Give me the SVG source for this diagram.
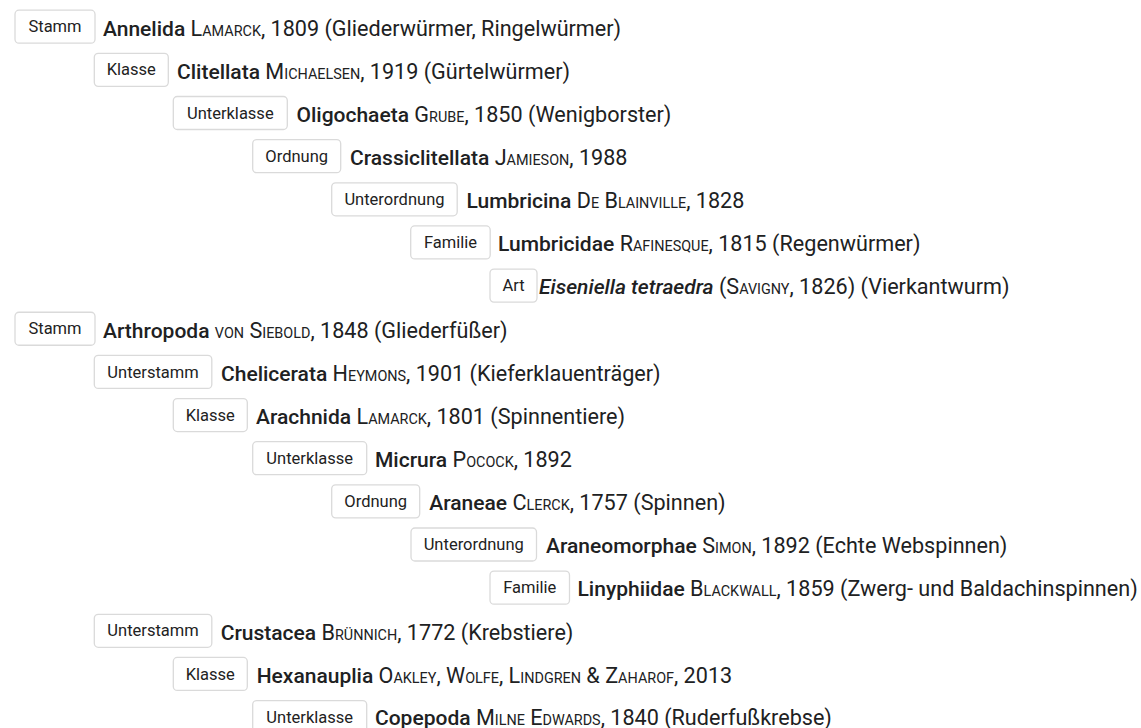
<svg xmlns="http://www.w3.org/2000/svg" width="1141" height="728" viewBox="0 0 1141 728">
<style>
  .bg { fill: #ffffff; }
  .box { fill: #ffffff; stroke: #dadada; stroke-width: 1.3; }
  .lbl { font-family: Roboto, "Liberation Sans", sans-serif; font-size: 16.5px; fill: #222222; text-anchor: middle; }
  .txt { font-family: Roboto, "Liberation Sans", sans-serif; font-size: 21.6px; fill: #202122; }
  .n { font-weight: 500; font-size: 21px; }
  .i { font-weight: 500; font-style: italic; font-size: 21px; }
  .s { font-size: 14.4px; }
</style>
<rect class="bg" x="0" y="0" width="1141" height="728"/>
<g id="connectors"/>
<g id="r0" transform="translate(0,26.7)"><rect class="box" x="15" y="-16.5" width="80" height="33" rx="4"/><text class="lbl" x="55" y="5.6">Stamm</text><text class="txt" x="103" y="8.8"><tspan class="n">Annelida</tspan> L<tspan class="s">AMARCK</tspan>, 1809 (Gliederwürmer, Ringelwürmer)</text></g>
<g id="r1" transform="translate(0,69.85)"><rect class="box" x="94.3" y="-16.5" width="74" height="33" rx="4"/><text class="lbl" x="131.3" y="5.6">Klasse</text><text class="txt" x="177" y="8.8"><tspan class="n">Clitellata</tspan> M<tspan class="s">ICHAELSEN</tspan>, 1919 (Gürtelwürmer)</text></g>
<g id="r2" transform="translate(0,113)"><rect class="box" x="173.3" y="-16.5" width="114" height="33" rx="4"/><text class="lbl" x="230.3" y="5.6">Unterklasse</text><text class="txt" x="296.5" y="8.8"><tspan class="n">Oligochaeta</tspan> G<tspan class="s">RUBE</tspan>, 1850 (Wenigborster)</text></g>
<g id="r3" transform="translate(0,156.15)"><rect class="box" x="252.7" y="-16.5" width="88" height="33" rx="4"/><text class="lbl" x="296.7" y="5.6">Ordnung</text><text class="txt" x="350" y="8.8"><tspan class="n">Crassiclitellata</tspan> J<tspan class="s">AMIESON</tspan>, 1988</text></g>
<g id="r4" transform="translate(0,199.3)"><rect class="box" x="331.7" y="-16.5" width="125.5" height="33" rx="4"/><text class="lbl" x="394.45" y="5.6">Unterordnung</text><text class="txt" x="466.5" y="8.8"><tspan class="n">Lumbricina</tspan> D<tspan class="s">E</tspan> B<tspan class="s">LAINVILLE</tspan>, 1828</text></g>
<g id="r5" transform="translate(0,242.45)"><rect class="box" x="410.7" y="-16.5" width="79.5" height="33" rx="4"/><text class="lbl" x="450.45" y="5.6">Familie</text><text class="txt" x="498" y="8.8"><tspan class="n">Lumbricidae</tspan> R<tspan class="s">AFINESQUE</tspan>, 1815 (Regenwürmer)</text></g>
<g id="r6" transform="translate(0,285.6)"><rect class="box" x="490" y="-16.5" width="47" height="33" rx="4"/><text class="lbl" x="513.5" y="5.6">Art</text><text class="txt" x="539" y="8.8"><tspan class="i">Eiseniella tetraedra</tspan> (S<tspan class="s">AVIGNY</tspan>, 1826) (Vierkantwurm)</text></g>
<g id="r7" transform="translate(0,328.75)"><rect class="box" x="15" y="-16.5" width="80" height="33" rx="4"/><text class="lbl" x="55" y="5.6">Stamm</text><text class="txt" x="103" y="8.8"><tspan class="n">Arthropoda</tspan> <tspan class="s">VON</tspan> S<tspan class="s">IEBOLD</tspan>, 1848 (Gliederfüßer)</text></g>
<g id="r8" transform="translate(0,371.9)"><rect class="box" x="94.3" y="-16.5" width="117.5" height="33" rx="4"/><text class="lbl" x="153.05" y="5.6">Unterstamm</text><text class="txt" x="221" y="8.8"><tspan class="n">Chelicerata</tspan> H<tspan class="s">EYMONS</tspan>, 1901 (Kieferklauenträger)</text></g>
<g id="r9" transform="translate(0,415.05)"><rect class="box" x="173.3" y="-16.5" width="74" height="33" rx="4"/><text class="lbl" x="210.3" y="5.6">Klasse</text><text class="txt" x="256" y="8.8"><tspan class="n">Arachnida</tspan> L<tspan class="s">AMARCK</tspan>, 1801 (Spinnentiere)</text></g>
<g id="r10" transform="translate(0,458.2)"><rect class="box" x="252.7" y="-16.5" width="114" height="33" rx="4"/><text class="lbl" x="309.7" y="5.6">Unterklasse</text><text class="txt" x="375" y="8.8"><tspan class="n">Micrura</tspan> P<tspan class="s">OCOCK</tspan>, 1892</text></g>
<g id="r11" transform="translate(0,501.35)"><rect class="box" x="331.7" y="-16.5" width="88" height="33" rx="4"/><text class="lbl" x="375.7" y="5.6">Ordnung</text><text class="txt" x="429.3" y="8.8"><tspan class="n">Araneae</tspan> C<tspan class="s">LERCK</tspan>, 1757 (Spinnen)</text></g>
<g id="r12" transform="translate(0,544.5)"><rect class="box" x="411" y="-16.5" width="125.5" height="33" rx="4"/><text class="lbl" x="473.75" y="5.6">Unterordnung</text><text class="txt" x="546" y="8.8"><tspan class="n">Araneomorphae</tspan> S<tspan class="s">IMON</tspan>, 1892 (Echte Webspinnen)</text></g>
<g id="r13" transform="translate(0,587.65)"><rect class="box" x="490" y="-16.5" width="79.5" height="33" rx="4"/><text class="lbl" x="529.75" y="5.6">Familie</text><text class="txt" x="577.5" y="8.8"><tspan class="n">Linyphiidae</tspan> B<tspan class="s">LACKWALL</tspan>, 1859 (Zwerg- und Baldachinspinnen)</text></g>
<g id="r14" transform="translate(0,630.8)"><rect class="box" x="94.3" y="-16.5" width="117.5" height="33" rx="4"/><text class="lbl" x="153.05" y="5.6">Unterstamm</text><text class="txt" x="220.7" y="8.8"><tspan class="n">Crustacea</tspan> B<tspan class="s">RÜNNICH</tspan>, 1772 (Krebstiere)</text></g>
<g id="r15" transform="translate(0,673.95)"><rect class="box" x="173.3" y="-16.5" width="74" height="33" rx="4"/><text class="lbl" x="210.3" y="5.6">Klasse</text><text class="txt" x="256.7" y="8.8"><tspan class="n">Hexanauplia</tspan> O<tspan class="s">AKLEY</tspan>, W<tspan class="s">OLFE</tspan>, L<tspan class="s">INDGREN</tspan> &amp; Z<tspan class="s">AHAROF</tspan>, 2013</text></g>
<g id="r16" transform="translate(0,717.1)"><rect class="box" x="252.7" y="-16.5" width="114" height="33" rx="4"/><text class="lbl" x="309.7" y="5.6">Unterklasse</text><text class="txt" x="375" y="7.5"><tspan class="n">Copepoda</tspan> M<tspan class="s">ILNE</tspan> E<tspan class="s">DWARDS</tspan>, 1840 (Ruderfußkrebse)</text></g>
</svg>
